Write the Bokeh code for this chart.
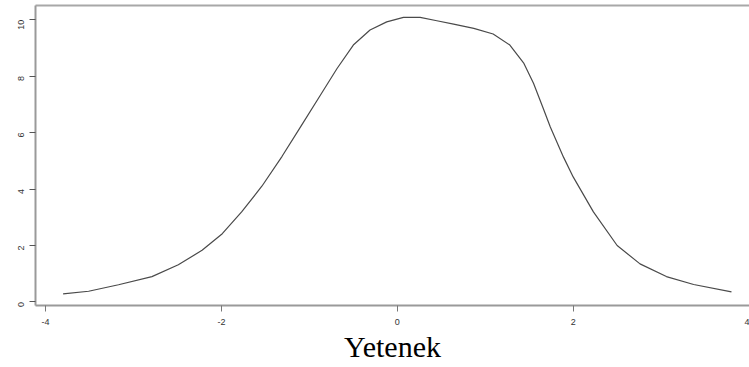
import math
from bokeh.plotting import figure
from bokeh.models import LinearAxis, FixedTicker, Range1d
from bokeh.embed import file_html
from bokeh.resources import INLINE

# Data
x_vals = [-3.80, -3.51, -3.17, -2.79, -2.49, -2.22, -1.99, -1.77, -1.54, -1.31,
          -1.10, -0.875, -0.685, -0.50, -0.31, -0.12, 0.07, 0.26, 0.45, 0.64,
          0.87, 1.09, 1.28, 1.44, 1.55, 1.66, 1.74, 1.89, 2.00, 2.23,
          2.50, 2.76, 3.06, 3.37, 3.80]
y_vals = [0.29, 0.38, 0.61, 0.90, 1.32, 1.83, 2.42, 3.19, 4.10, 5.16,
          6.20, 7.32, 8.27, 9.10, 9.63, 9.92, 10.08, 10.08, 9.96, 9.84,
          9.69, 9.49, 9.10, 8.45, 7.74, 6.85, 6.20, 5.13, 4.43, 3.19,
          2.00, 1.35, 0.90, 0.62, 0.36]
x_ticks = [-4, -2, 0, 2, 4]
y_ticks = [0, 2, 4, 6, 8, 10]
x_label = "Yetenek"

p = figure(width=749, height=367, output_backend="svg", toolbar_location=None,
           x_range=Range1d(-4.114, 4.005), y_range=Range1d(-0.124, 10.50),
           min_border_left=35, min_border_right=0, min_border_top=5,
           min_border_bottom=62, x_axis_location=None, y_axis_location=None)
p.outline_line_color = None
p.xgrid.visible = False
p.ygrid.visible = False
p.background_fill_color = "white"
p.border_fill_color = "white"

p.line(x_vals, y_vals, line_color="#4a4a4a", line_width=1.2, line_join="round")

tick_font = "Liberation Sans"

xa = LinearAxis(ticker=FixedTicker(ticks=x_ticks))
xa.major_label_overrides = {t: str(t) for t in x_ticks}
xa.axis_line_color = "#9a9a9a"
xa.axis_line_width = 2
xa.major_tick_line_color = "#777777"
xa.major_tick_out = 6
xa.major_tick_in = 0
xa.minor_tick_line_color = None
xa.major_label_text_font = tick_font
xa.major_label_text_font_size = "9px"
xa.major_label_text_color = "#333333"
xa.major_label_standoff = 7
xa.axis_label = x_label
xa.axis_label_text_font = "Liberation Serif"
xa.axis_label_text_font_size = "30px"
xa.axis_label_text_font_style = "normal"
xa.axis_label_text_color = "#000000"
xa.axis_label_standoff = 2
p.add_layout(xa, "below")

ya = LinearAxis(ticker=FixedTicker(ticks=y_ticks))
ya.major_label_overrides = {t: str(t) for t in y_ticks}
ya.axis_line_color = "#9a9a9a"
ya.axis_line_width = 2
ya.major_tick_line_color = "#555555"
ya.major_tick_out = 6
ya.major_tick_in = 0
ya.minor_tick_line_color = None
ya.major_label_text_font = tick_font
ya.major_label_text_font_size = "9px"
ya.major_label_text_color = "#333333"
ya.major_label_orientation = math.pi / 2
ya.major_label_standoff = 8
p.add_layout(ya, "left")

top = LinearAxis(ticker=FixedTicker(ticks=[]))
top.axis_line_color = "#a8a8a8"
top.axis_line_width = 2
top.major_tick_out = 0
top.major_tick_in = 0
top.minor_tick_line_color = None
top.major_label_text_font_size = "0px"
top.major_label_standoff = 0
p.add_layout(top, "above")

open("out.html", "w").write(file_html(p, INLINE))
